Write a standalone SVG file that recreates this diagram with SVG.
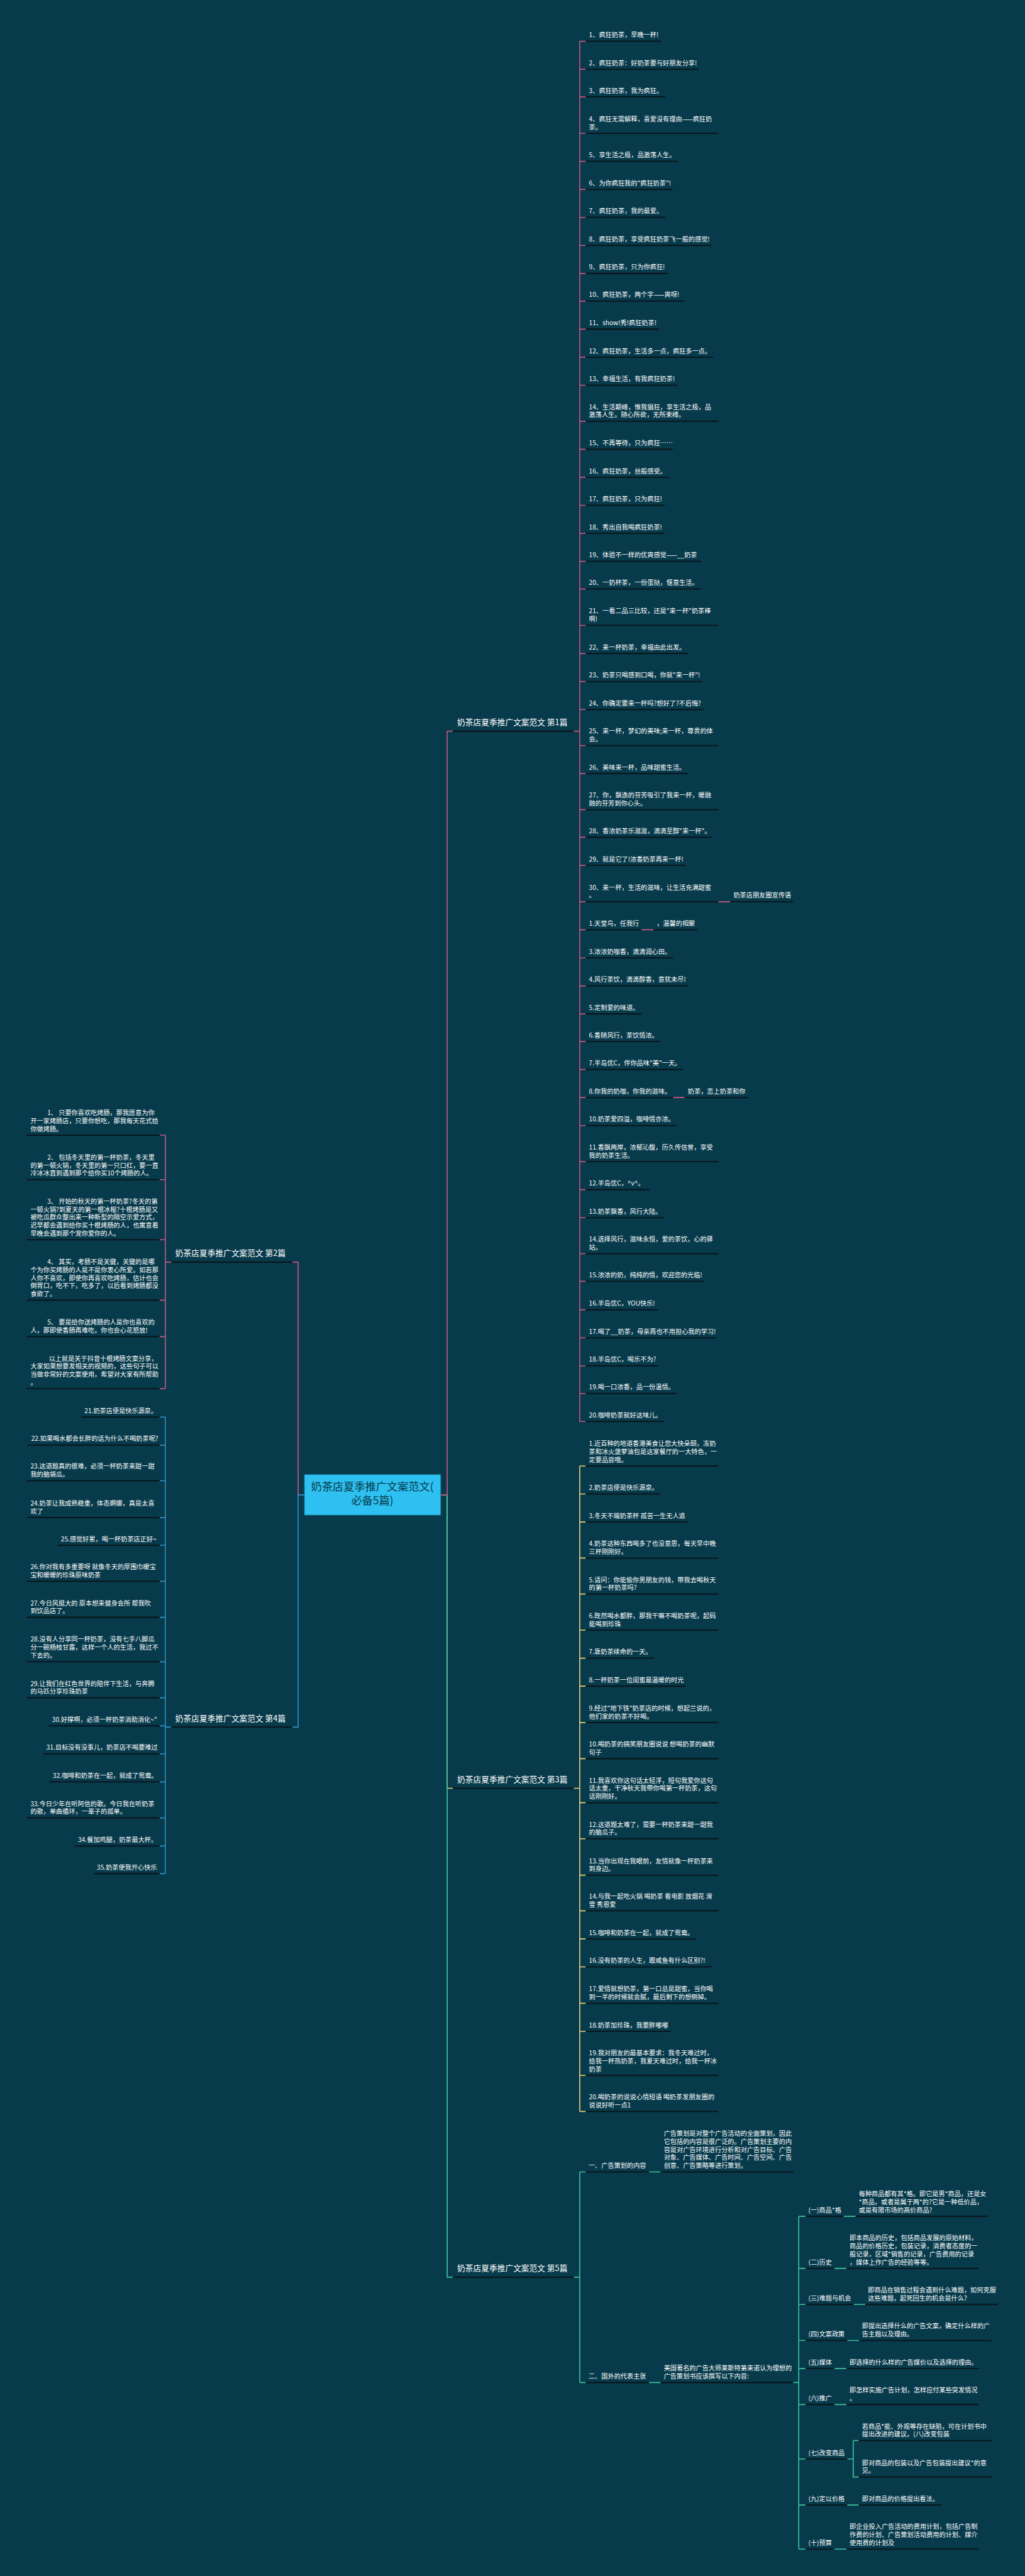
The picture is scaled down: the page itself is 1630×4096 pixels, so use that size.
<svg xmlns="http://www.w3.org/2000/svg" width="1630" height="4096" viewBox="0 0 1630 4096">
<style>
.t{font-family:"Noto Sans CJK SC","Noto Sans",sans-serif;font-size:16px;fill:#ffffff}
.lb{font-family:"Noto Sans CJK SC","Noto Sans",sans-serif;font-size:20px;fill:#ffffff}
.ct{font-family:"Noto Sans CJK SC","Noto Sans",sans-serif;font-size:27px;fill:#073a4b;text-anchor:middle}
.ul{stroke:#0a161b;stroke-width:3.2;fill:none}
.cp{stroke:#c4577f;fill:none;stroke-width:2.6}
.cy{stroke:#e6cf76;fill:none;stroke-width:2.6}
.cg{stroke:#3cc0a0;fill:none;stroke-width:2.6}
.cb{stroke:#2d8fc4;fill:none;stroke-width:2.6}
</style>
<rect width="1630" height="4096" fill="#073a4b"/>
<g transform="scale(0.6367)">
<g id="connectors">
<path class="cy" d="M1101 3733H1117V4466H1131M1433 4466H1448"/>
<path class="cg" d="M1101 3733H1117V5687H1131M1433 5687H1448"/>
<path class="cp" d="M1101 3733H1117V1826H1131M1433 1826H1448"/>
<path class="cp" d="M760 3733H744.6V3152H730M428 3152H413"/>
<path class="cb" d="M760 3733H744.6V4313H730M428 4313H413"/>
<path class="cp" d="M1448 103V3550M1448 103H1463M1448 173H1463M1448 242H1463M1448 333H1463M1448 403H1463M1448 473H1463M1448 543H1463M1448 613H1463M1448 683H1463M1448 752H1463M1448 822H1463M1448 892H1463M1448 962H1463M1448 1052H1463M1448 1122H1463M1448 1192H1463M1448 1262H1463M1448 1332H1463M1448 1402H1463M1448 1471H1463M1448 1562H1463M1448 1632H1463M1448 1702H1463M1448 1772H1463M1448 1862H1463M1448 1932H1463M1448 2022H1463M1448 2091H1463M1448 2161H1463M1448 2252H1463M1448 2322H1463M1448 2392H1463M1448 2462H1463M1448 2532H1463M1448 2601H1463M1448 2671H1463M1448 2741H1463M1448 2811H1463M1448 2901H1463M1448 2971H1463M1448 3041H1463M1448 3131H1463M1448 3200H1463M1448 3271H1463M1448 3341H1463M1448 3411H1463M1448 3480H1463M1448 3550H1463M1794 2252H1824M1602 2322H1632M1681 2741H1710"/>
<path class="cy" d="M1448 3661V5273M1448 3661H1463M1448 3731H1463M1448 3801H1463M1448 3891H1463M1448 3981H1463M1448 4071H1463M1448 4141H1463M1448 4211H1463M1448 4302H1463M1448 4392H1463M1448 4502H1463M1448 4592H1463M1448 4683H1463M1448 4772H1463M1448 4842H1463M1448 4912H1463M1448 5003H1463M1448 5073H1463M1448 5183H1463M1448 5273H1463"/>
<path class="cg" d="M1448 5424V5950M1448 5424H1463M1448 5950H1463M1621 5424H1650M1621 5950H1650M1981 5950H1995M1995 5535V6366M1995 5535H2012M1995 5665H2012M1995 5755H2012M1995 5845H2012M1995 5915H2012M1995 6005H2012M1995 6141H2012M1995 6256H2012M1995 6366H2012M2107 5535H2137M2084 5665H2114M2132 5755H2161M2116 5845H2146M2084 5915H2114M2084 6005H2114M2116 6141H2131M2131 6095H2145M2131 6095V6186H2145M2116 6256H2145M2084 6366H2114"/>
<path class="cp" d="M413 2835V3468M399 2835H413M399 2946H413M399 3096H413M399 3247H413M399 3338H413M399 3468H413"/>
<path class="cb" d="M413 3539V4679M399 3539H413M399 3609H413M399 3698H413M399 3790H413M399 3859H413M399 3949H413M399 4039H413M399 4150H413M399 4240H413M399 4310H413M399 4380H413M399 4450H413M399 4540H413M399 4610H413M399 4679H413"/>
</g>
<g id="center"><rect x="760" y="3682" width="341" height="102" fill="#2ec0f0" stroke="#0f5a78" stroke-width="1.5"/><text class="ct" x="930" y="3723">奶茶店夏季推广文案范文(<tspan x="930" dy="34">必备5篇)</tspan></text></g>
<g id="b1"><line class="ul" x1="1131" y1="1826" x2="1433" y2="1826"/><text class="lb" x="1142" y="1811">奶茶店夏季推广文案范文 第1篇</text></g>
<g id="b3"><line class="ul" x1="1131" y1="4466" x2="1433" y2="4466"/><text class="lb" x="1142" y="4451">奶茶店夏季推广文案范文 第3篇</text></g>
<g id="b5"><line class="ul" x1="1131" y1="5687" x2="1433" y2="5687"/><text class="lb" x="1142" y="5672">奶茶店夏季推广文案范文 第5篇</text></g>
<g id="b2"><line class="ul" x1="428" y1="3152" x2="730" y2="3152"/><text class="lb" x="438" y="3137">奶茶店夏季推广文案范文 第2篇</text></g>
<g id="b4"><line class="ul" x1="428" y1="4313" x2="730" y2="4313"/><text class="lb" x="438" y="4298">奶茶店夏季推广文案范文 第4篇</text></g>
<g id="b1-leaves">
<g id="b1-1"><line class="ul" x1="1463" y1="103" x2="1651" y2="103"/><text class="t" x="1471" y="93">1、疯狂奶茶，早晚一杯!</text></g>
<g id="b1-2"><line class="ul" x1="1463" y1="173" x2="1745" y2="173"/><text class="t" x="1471" y="163">2、疯狂奶茶：好奶茶要与好朋友分享!</text></g>
<g id="b1-3"><line class="ul" x1="1463" y1="242" x2="1661" y2="242"/><text class="t" x="1471" y="232">3、疯狂奶茶，我为疯狂。</text></g>
<g id="b1-4"><line class="ul" x1="1463" y1="333" x2="1794" y2="333"/><text class="t" x="1471" y="303">4、疯狂无需解释，喜爱没有理由——疯狂奶<tspan x="1471" dy="20">茶。</tspan></text></g>
<g id="b1-5"><line class="ul" x1="1463" y1="403" x2="1693" y2="403"/><text class="t" x="1471" y="393">5、享生活之极，品激荡人生。</text></g>
<g id="b1-6"><line class="ul" x1="1463" y1="473" x2="1680" y2="473"/><text class="t" x="1471" y="463">6、为你疯狂我的"疯狂奶茶"!</text></g>
<g id="b1-7"><line class="ul" x1="1463" y1="543" x2="1661" y2="543"/><text class="t" x="1471" y="533">7、疯狂奶茶，我的最爱。</text></g>
<g id="b1-8"><line class="ul" x1="1463" y1="613" x2="1777" y2="613"/><text class="t" x="1471" y="603">8、疯狂奶茶，享受疯狂奶茶飞一般的感觉!</text></g>
<g id="b1-9"><line class="ul" x1="1463" y1="683" x2="1667" y2="683"/><text class="t" x="1471" y="673">9、疯狂奶茶，只为你疯狂!</text></g>
<g id="b1-10"><line class="ul" x1="1463" y1="752" x2="1710" y2="752"/><text class="t" x="1471" y="742">10、疯狂奶茶，两个字——爽呀!</text></g>
<g id="b1-11"><line class="ul" x1="1463" y1="822" x2="1646" y2="822"/><text class="t" x="1471" y="812">11、show!秀!疯狂奶茶!</text></g>
<g id="b1-12"><line class="ul" x1="1463" y1="892" x2="1781" y2="892"/><text class="t" x="1471" y="882">12、疯狂奶茶，生活多一点，疯狂多一点。</text></g>
<g id="b1-13"><line class="ul" x1="1463" y1="962" x2="1692" y2="962"/><text class="t" x="1471" y="952">13、幸福生活，有我疯狂奶茶!</text></g>
<g id="b1-14"><line class="ul" x1="1463" y1="1052" x2="1794" y2="1052"/><text class="t" x="1471" y="1022">14、生活颠峰，惟我猖狂，享生活之极，品<tspan x="1471" dy="20">激荡人生。随心所欲，无所束缚。</tspan></text></g>
<g id="b1-15"><line class="ul" x1="1463" y1="1122" x2="1680" y2="1122"/><text class="t" x="1471" y="1112">15、不再等待，只为疯狂……</text></g>
<g id="b1-16"><line class="ul" x1="1463" y1="1192" x2="1671" y2="1192"/><text class="t" x="1471" y="1182">16、疯狂奶茶，丝般感受。</text></g>
<g id="b1-17"><line class="ul" x1="1463" y1="1262" x2="1660" y2="1262"/><text class="t" x="1471" y="1252">17、疯狂奶茶，只为疯狂!</text></g>
<g id="b1-18"><line class="ul" x1="1463" y1="1332" x2="1660" y2="1332"/><text class="t" x="1471" y="1322">18、秀出自我喝疯狂奶茶!</text></g>
<g id="b1-19"><line class="ul" x1="1463" y1="1402" x2="1751" y2="1402"/><text class="t" x="1471" y="1392">19、体验不一样的优爽感觉——__奶茶</text></g>
<g id="b1-20"><line class="ul" x1="1463" y1="1471" x2="1750" y2="1471"/><text class="t" x="1471" y="1461">20、一奶杯茶，一份蛋挞，惬意生活。</text></g>
<g id="b1-21"><line class="ul" x1="1463" y1="1562" x2="1794" y2="1562"/><text class="t" x="1471" y="1532">21、一看二品三比较，还是"来一杯"奶茶棒<tspan x="1471" dy="20">啊!</tspan></text></g>
<g id="b1-22"><line class="ul" x1="1463" y1="1632" x2="1718" y2="1632"/><text class="t" x="1471" y="1622">22、来一杯奶茶，幸福由此出发。</text></g>
<g id="b1-23"><line class="ul" x1="1463" y1="1702" x2="1753" y2="1702"/><text class="t" x="1471" y="1692">23、奶茶只喝感到口喝，你就"来一杯"!</text></g>
<g id="b1-24"><line class="ul" x1="1463" y1="1772" x2="1757" y2="1772"/><text class="t" x="1471" y="1762">24、你确定要来一杯吗?想好了?不后悔?</text></g>
<g id="b1-25"><line class="ul" x1="1463" y1="1862" x2="1794" y2="1862"/><text class="t" x="1471" y="1832">25、来一杯，梦幻的美味;来一杯，尊贵的体<tspan x="1471" dy="20">会。</tspan></text></g>
<g id="b1-26"><line class="ul" x1="1463" y1="1932" x2="1718" y2="1932"/><text class="t" x="1471" y="1922">26、美味来一杯，品味甜蜜生活。</text></g>
<g id="b1-27"><line class="ul" x1="1463" y1="2022" x2="1794" y2="2022"/><text class="t" x="1471" y="1992">27、你，飘逸的芬芳吸引了我来一杯，暖融<tspan x="1471" dy="20">融的芬芳到你心头。</tspan></text></g>
<g id="b1-28"><line class="ul" x1="1463" y1="2091" x2="1779" y2="2091"/><text class="t" x="1471" y="2081">28、香浓奶茶乐滋滋，滴滴至醇"来一杯"。</text></g>
<g id="b1-29"><line class="ul" x1="1463" y1="2161" x2="1712" y2="2161"/><text class="t" x="1471" y="2151">29、就是它了!浓香奶茶再来一杯!</text></g>
<g id="b1-30"><line class="ul" x1="1463" y1="2252" x2="1794" y2="2252"/><text class="t" x="1471" y="2222">30、来一杯，生活的滋味，让生活充满甜蜜<tspan x="1471" dy="20">。</tspan></text></g>
<g id="b1-30a"><line class="ul" x1="1824" y1="2252" x2="1981" y2="2252"/><text class="t" x="1832" y="2242">奶茶店朋友圈宣传语</text></g>
<g id="b1-31"><line class="ul" x1="1463" y1="2322" x2="1602" y2="2322"/><text class="t" x="1471" y="2312">1.天堂鸟，任我行</text></g>
<g id="b1-31a"><line class="ul" x1="1632" y1="2322" x2="1742" y2="2322"/><text class="t" x="1640" y="2312">，温馨的相聚</text></g>
<g id="b1-32"><line class="ul" x1="1463" y1="2392" x2="1681" y2="2392"/><text class="t" x="1471" y="2382">3.浓浓奶咖香，滴滴润心田。</text></g>
<g id="b1-33"><line class="ul" x1="1463" y1="2462" x2="1718" y2="2462"/><text class="t" x="1471" y="2452">4.风行茶饮，滴滴醇香，意犹未尽!</text></g>
<g id="b1-34"><line class="ul" x1="1463" y1="2532" x2="1602" y2="2532"/><text class="t" x="1471" y="2522">5.定制爱的味道。</text></g>
<g id="b1-35"><line class="ul" x1="1463" y1="2601" x2="1650" y2="2601"/><text class="t" x="1471" y="2591">6.香随风行，茶饮情浓。</text></g>
<g id="b1-36"><line class="ul" x1="1463" y1="2671" x2="1705" y2="2671"/><text class="t" x="1471" y="2661">7.半岛优C，伴你品味"美"一天。</text></g>
<g id="b1-37"><line class="ul" x1="1463" y1="2741" x2="1681" y2="2741"/><text class="t" x="1471" y="2731">8.你我的奶咖，你我的滋味。</text></g>
<g id="b1-37a"><line class="ul" x1="1710" y1="2741" x2="1868" y2="2741"/><text class="t" x="1718" y="2731">奶茶，恋上奶茶和你</text></g>
<g id="b1-38"><line class="ul" x1="1463" y1="2811" x2="1690" y2="2811"/><text class="t" x="1471" y="2801">10.奶茶爱四溢，咖啡情亦浓。</text></g>
<g id="b1-39"><line class="ul" x1="1463" y1="2901" x2="1794" y2="2901"/><text class="t" x="1471" y="2871">11.香飘两岸，浓郁沁馥，历久传信誉，享受<tspan x="1471" dy="20">我的奶茶生活。</tspan></text></g>
<g id="b1-40"><line class="ul" x1="1463" y1="2971" x2="1622" y2="2971"/><text class="t" x="1471" y="2961">12.半岛优C，^v^。</text></g>
<g id="b1-41"><line class="ul" x1="1463" y1="3041" x2="1659" y2="3041"/><text class="t" x="1471" y="3031">13.奶茶飘香，风行大陆。</text></g>
<g id="b1-42"><line class="ul" x1="1463" y1="3131" x2="1794" y2="3131"/><text class="t" x="1471" y="3101">14.选择风行，滋味永恒，爱的茶饮，心的驿<tspan x="1471" dy="20">站。</tspan></text></g>
<g id="b1-43"><line class="ul" x1="1463" y1="3200" x2="1758" y2="3200"/><text class="t" x="1471" y="3190">15.浓浓的奶，纯纯的情，欢迎您的光临!</text></g>
<g id="b1-44"><line class="ul" x1="1463" y1="3271" x2="1645" y2="3271"/><text class="t" x="1471" y="3261">16.半岛优C，YOU快乐!</text></g>
<g id="b1-45"><line class="ul" x1="1463" y1="3341" x2="1788" y2="3341"/><text class="t" x="1471" y="3331">17.喝了__奶茶，母亲再也不用担心我的学习!</text></g>
<g id="b1-46"><line class="ul" x1="1463" y1="3411" x2="1645" y2="3411"/><text class="t" x="1471" y="3401">18.半岛优C，喝乐不为?</text></g>
<g id="b1-47"><line class="ul" x1="1463" y1="3480" x2="1690" y2="3480"/><text class="t" x="1471" y="3470">19.喝一口浓香，品一份温情。</text></g>
<g id="b1-48"><line class="ul" x1="1463" y1="3550" x2="1659" y2="3550"/><text class="t" x="1471" y="3540">20.咖啡奶茶就好这味儿。</text></g>
</g>
<g id="b3-leaves">
<g id="b3-1"><line class="ul" x1="1463" y1="3661" x2="1794" y2="3661"/><text class="t" x="1471" y="3611">1.近百种的地道香港美食让您大快朵颐，冻奶<tspan x="1471" dy="20">茶和冰火菠萝油包是这家餐厅的一大特色，一</tspan><tspan x="1471" dy="20">定要品尝哦。</tspan></text></g>
<g id="b3-2"><line class="ul" x1="1463" y1="3731" x2="1650" y2="3731"/><text class="t" x="1471" y="3721">2.奶茶店便是快乐源泉。</text></g>
<g id="b3-3"><line class="ul" x1="1463" y1="3801" x2="1717" y2="3801"/><text class="t" x="1471" y="3791">3.冬天不端奶茶杯 孤苦一生无人追</text></g>
<g id="b3-4"><line class="ul" x1="1463" y1="3891" x2="1794" y2="3891"/><text class="t" x="1471" y="3861">4.奶茶这种东西喝多了也没意思，每天早中晚<tspan x="1471" dy="20">三杯刚刚好。</tspan></text></g>
<g id="b3-5"><line class="ul" x1="1463" y1="3981" x2="1794" y2="3981"/><text class="t" x="1471" y="3951">5.请问：你能偷你男朋友的钱，带我去喝秋天<tspan x="1471" dy="20">的第一杯奶茶吗?</tspan></text></g>
<g id="b3-6"><line class="ul" x1="1463" y1="4071" x2="1794" y2="4071"/><text class="t" x="1471" y="4041">6.既然喝水都胖，那我干嘛不喝奶茶呢，起码<tspan x="1471" dy="20">能喝到珍珠</tspan></text></g>
<g id="b3-7"><line class="ul" x1="1463" y1="4141" x2="1634" y2="4141"/><text class="t" x="1471" y="4131">7.靠奶茶续命的一天。</text></g>
<g id="b3-8"><line class="ul" x1="1463" y1="4211" x2="1712" y2="4211"/><text class="t" x="1471" y="4201">8.一杯奶茶一位闺蜜最温暖的时光</text></g>
<g id="b3-9"><line class="ul" x1="1463" y1="4302" x2="1794" y2="4302"/><text class="t" x="1471" y="4272">9.经过"地下铁"奶茶店的时候，想起兰说的，<tspan x="1471" dy="20">他们家的奶茶不好喝。</tspan></text></g>
<g id="b3-10"><line class="ul" x1="1463" y1="4392" x2="1794" y2="4392"/><text class="t" x="1471" y="4362">10.喝奶茶的搞笑朋友圈说说 想喝奶茶的幽默<tspan x="1471" dy="20">句子</tspan></text></g>
<g id="b3-11"><line class="ul" x1="1463" y1="4502" x2="1794" y2="4502"/><text class="t" x="1471" y="4452">11.我喜欢你这句话太轻浮，短句我爱你这句<tspan x="1471" dy="20">话太重，干净秋天我带你喝第一杯奶茶，这句</tspan><tspan x="1471" dy="20">话刚刚好。</tspan></text></g>
<g id="b3-12"><line class="ul" x1="1463" y1="4592" x2="1794" y2="4592"/><text class="t" x="1471" y="4562">12.这道题太难了，需要一杯奶茶来甜一甜我<tspan x="1471" dy="20">的脑瓜子。</tspan></text></g>
<g id="b3-13"><line class="ul" x1="1463" y1="4683" x2="1794" y2="4683"/><text class="t" x="1471" y="4653">13.当你出现在我眼前，友情就像一杯奶茶来<tspan x="1471" dy="20">到身边。</tspan></text></g>
<g id="b3-14"><line class="ul" x1="1463" y1="4772" x2="1794" y2="4772"/><text class="t" x="1471" y="4742">14.与我一起吃火锅 喝奶茶 看电影 放烟花 滑<tspan x="1471" dy="20">雪 秀恩爱</tspan></text></g>
<g id="b3-15"><line class="ul" x1="1463" y1="4842" x2="1738" y2="4842"/><text class="t" x="1471" y="4832">15.咖啡和奶茶在一起，就成了鸳鸯。</text></g>
<g id="b3-16"><line class="ul" x1="1463" y1="4912" x2="1777" y2="4912"/><text class="t" x="1471" y="4902">16.没有奶茶的人生，跟咸鱼有什么区别?!</text></g>
<g id="b3-17"><line class="ul" x1="1463" y1="5003" x2="1794" y2="5003"/><text class="t" x="1471" y="4973">17.爱情就想奶茶，第一口总是甜蜜，当你喝<tspan x="1471" dy="20">到一半的时候就会腻，最后剩下的想倒掉。</tspan></text></g>
<g id="b3-18"><line class="ul" x1="1463" y1="5073" x2="1675" y2="5073"/><text class="t" x="1471" y="5063">18.奶茶加珍珠，我要胖嘟嘟</text></g>
<g id="b3-19"><line class="ul" x1="1463" y1="5183" x2="1794" y2="5183"/><text class="t" x="1471" y="5133">19.我对朋友的最基本要求：我冬天难过时，<tspan x="1471" dy="20">给我一杯热奶茶，我夏天难过时，给我一杯冰</tspan><tspan x="1471" dy="20">奶茶</tspan></text></g>
<g id="b3-20"><line class="ul" x1="1463" y1="5273" x2="1794" y2="5273"/><text class="t" x="1471" y="5243">20.喝奶茶的说说心情短语 喝奶茶发朋友圈的<tspan x="1471" dy="20">说说好听一点1</tspan></text></g>
</g>
<g id="b5-nodes">
<g id="b5-1"><line class="ul" x1="1463" y1="5424" x2="1621" y2="5424"/><text class="t" x="1470" y="5414">一、广告策划的内容</text></g>
<g id="b5-1a"><line class="ul" x1="1650" y1="5424" x2="1981" y2="5424"/><text class="t" x="1658" y="5334">广告策划是对整个广告活动的全面策划，因此<tspan x="1658" dy="20">它包括的内容是很广泛的。广告策划主要的内</tspan><tspan x="1658" dy="20">容是对广告环境进行分析和对广告目标、广告</tspan><tspan x="1658" dy="20">对象、广告媒体、广告时间、广告空间、广告</tspan><tspan x="1658" dy="20">创意、广告策略等进行策划。</tspan></text></g>
<g id="b5-2"><line class="ul" x1="1463" y1="5950" x2="1621" y2="5950"/><text class="t" x="1470" y="5940">二、国外的代表主张</text></g>
<g id="b5-2a"><line class="ul" x1="1650" y1="5950" x2="1981" y2="5950"/><text class="t" x="1658" y="5920">美国著名的广告大师莱斯特第来诺认为理想的<tspan x="1658" dy="20">广告策划书应该撰写以下内容:</tspan></text></g>
<g id="b5-s1"><line class="ul" x1="2012" y1="5535" x2="2107" y2="5535"/><text class="t" x="2019" y="5525">(一)商品*格</text></g>
<g id="b5-s1a"><line class="ul" x1="2137" y1="5535" x2="2467" y2="5535"/><text class="t" x="2145" y="5485">每种商品都有其*格。即它是男*商品，还是女<tspan x="2145" dy="20">*商品，或者是属于两*的?它是一种低价品，</tspan><tspan x="2145" dy="20">或是有限市场的高价商品?</tspan></text></g>
<g id="b5-s2"><line class="ul" x1="2012" y1="5665" x2="2084" y2="5665"/><text class="t" x="2019" y="5655">(二)历史</text></g>
<g id="b5-s2a"><line class="ul" x1="2114" y1="5665" x2="2445" y2="5665"/><text class="t" x="2122" y="5595">即本商品的历史，包括商品发展的原始材料，<tspan x="2122" dy="20">商品的价格历史，包装记录，消费者态度的一</tspan><tspan x="2122" dy="20">般记录，区域*销售的记录，广告费用的记录</tspan><tspan x="2122" dy="20">，媒体上作广告的经验等等。</tspan></text></g>
<g id="b5-s3"><line class="ul" x1="2012" y1="5755" x2="2132" y2="5755"/><text class="t" x="2019" y="5745">(三)难题与机会</text></g>
<g id="b5-s3a"><line class="ul" x1="2161" y1="5755" x2="2492" y2="5755"/><text class="t" x="2168" y="5725">即商品在销售过程会遇到什么难题，如何克服<tspan x="2168" dy="20">这些难题，起死回生的机会是什么?</tspan></text></g>
<g id="b5-s4"><line class="ul" x1="2012" y1="5845" x2="2116" y2="5845"/><text class="t" x="2019" y="5835">(四)文案政策</text></g>
<g id="b5-s4a"><line class="ul" x1="2146" y1="5845" x2="2477" y2="5845"/><text class="t" x="2153" y="5815">即提出选择什么的广告文案，确定什么样的广<tspan x="2153" dy="20">告主题以及理由。</tspan></text></g>
<g id="b5-s5"><line class="ul" x1="2012" y1="5915" x2="2084" y2="5915"/><text class="t" x="2019" y="5905">(五)媒体</text></g>
<g id="b5-s5a"><line class="ul" x1="2114" y1="5915" x2="2445" y2="5915"/><text class="t" x="2122" y="5905">即选择的什么样的广告媒价以及选择的理由。</text></g>
<g id="b5-s6"><line class="ul" x1="2012" y1="6005" x2="2084" y2="6005"/><text class="t" x="2019" y="5995">(六)推广</text></g>
<g id="b5-s6a"><line class="ul" x1="2114" y1="6005" x2="2445" y2="6005"/><text class="t" x="2122" y="5975">即怎样实施广告计划，怎样应付某些突发情况<tspan x="2122" dy="20">。</tspan></text></g>
<g id="b5-s7"><line class="ul" x1="2012" y1="6141" x2="2116" y2="6141"/><text class="t" x="2019" y="6131">(七)改变商品</text></g>
<g id="b5-s7a"><line class="ul" x1="2145" y1="6095" x2="2477" y2="6095"/><text class="t" x="2153" y="6065">若商品*能、外观等存在缺陷，可在计划书中<tspan x="2153" dy="20">提出改进的建议。(八)改变包装</tspan></text></g>
<g id="b5-s7b"><line class="ul" x1="2145" y1="6186" x2="2477" y2="6186"/><text class="t" x="2153" y="6156">即对商品的包装以及广告包装提出建议*的意<tspan x="2153" dy="20">见。</tspan></text></g>
<g id="b5-s9"><line class="ul" x1="2012" y1="6256" x2="2116" y2="6256"/><text class="t" x="2019" y="6246">(九)定以价格</text></g>
<g id="b5-s9a"><line class="ul" x1="2145" y1="6256" x2="2351" y2="6256"/><text class="t" x="2153" y="6246">即对商品的价格提出看法。</text></g>
<g id="b5-s10"><line class="ul" x1="2012" y1="6366" x2="2084" y2="6366"/><text class="t" x="2019" y="6356">(十)预算</text></g>
<g id="b5-s10a"><line class="ul" x1="2114" y1="6366" x2="2445" y2="6366"/><text class="t" x="2122" y="6316">即企业投入广告活动的费用计划，包括广告制<tspan x="2122" dy="20">作费的计划、广告策划活动费用的计划、媒介</tspan><tspan x="2122" dy="20">使用费的计划及</tspan></text></g>
</g>
<g id="b2-leaves">
<g id="b2-1"><line class="ul" x1="67" y1="2835" x2="399" y2="2835"/><text class="t" x="118" y="2785">1、 只要你喜欢吃烤肠，那我愿意为你<tspan x="76" dy="20">开一家烤肠店，只要你想吃，那我每天花式给</tspan><tspan x="76" dy="20">你做烤肠。</tspan></text></g>
<g id="b2-2"><line class="ul" x1="67" y1="2946" x2="399" y2="2946"/><text class="t" x="118" y="2896">2、 包括冬天里的第一杯奶茶，冬天里<tspan x="76" dy="20">的第一顿火锅，冬天里的第一只口红，要一直</tspan><tspan x="76" dy="20">冷冰冰直到遇到那个给你买10个烤肠的人。</tspan></text></g>
<g id="b2-3"><line class="ul" x1="67" y1="3096" x2="399" y2="3096"/><text class="t" x="118" y="3006">3、 开始的秋天的第一杯奶茶?冬天的第<tspan x="76" dy="20">一顿火锅?到夏天的第一根冰棍?十根烤肠是又</tspan><tspan x="76" dy="20">被吃瓜群众整出来一种新型的隔空示爱方式，</tspan><tspan x="76" dy="20">迟早都会遇到给你买十根烤肠的人，也寓意着</tspan><tspan x="76" dy="20">早晚会遇到那个宠你爱你的人。</tspan></text></g>
<g id="b2-4"><line class="ul" x1="67" y1="3247" x2="399" y2="3247"/><text class="t" x="118" y="3157">4、 其实，考肠不是关键，关键的是哪<tspan x="76" dy="20">个为你买烤肠的人是不是你衷心所爱。如若那</tspan><tspan x="76" dy="20">人你不喜欢，即使你再喜欢吃烤肠，估计也会</tspan><tspan x="76" dy="20">倒胃口，吃不下，吃多了，以后看到烤肠都没</tspan><tspan x="76" dy="20">食欲了。</tspan></text></g>
<g id="b2-5"><line class="ul" x1="67" y1="3338" x2="399" y2="3338"/><text class="t" x="118" y="3308">5、 要是给你送烤肠的人是你也喜欢的<tspan x="76" dy="20">人，那即使香肠再难吃，你也会心花怒放!</tspan></text></g>
<g id="b2-6"><line class="ul" x1="67" y1="3468" x2="399" y2="3468"/><text class="t" x="122" y="3398">以上就是关于抖音十根烤肠文案分享，<tspan x="76" dy="20">大家如果想要发相关的视频的，这些句子可以</tspan><tspan x="76" dy="20">当做非常好的文案使用，希望对大家有所帮助</tspan><tspan x="76" dy="20">。</tspan></text></g>
</g>
<g id="b4-leaves">
<g id="b4-21"><line class="ul" x1="203" y1="3539" x2="399" y2="3539"/><text class="t" x="211" y="3529">21.奶茶店便是快乐源泉。</text></g>
<g id="b4-22"><line class="ul" x1="69" y1="3609" x2="399" y2="3609"/><text class="t" x="78" y="3599">22.如果喝水都会长胖的话为什么不喝奶茶呢?</text></g>
<g id="b4-23"><line class="ul" x1="67" y1="3698" x2="399" y2="3698"/><text class="t" x="76" y="3668">23.这道题真的很难，必须一杯奶茶来甜一甜<tspan x="76" dy="20">我的脑袋瓜。</tspan></text></g>
<g id="b4-24"><line class="ul" x1="67" y1="3790" x2="399" y2="3790"/><text class="t" x="76" y="3760">24.奶茶让我成熟稳重，体态婀娜，真是太喜<tspan x="76" dy="20">欢了</tspan></text></g>
<g id="b4-25"><line class="ul" x1="144" y1="3859" x2="399" y2="3859"/><text class="t" x="152" y="3849">25.感觉好累，喝一杯奶茶店正好~</text></g>
<g id="b4-26"><line class="ul" x1="67" y1="3949" x2="399" y2="3949"/><text class="t" x="76" y="3919">26.你对我有多重要呀 就像冬天的厚围巾暖宝<tspan x="76" dy="20">宝和暖暖的珍珠原味奶茶</tspan></text></g>
<g id="b4-27"><line class="ul" x1="67" y1="4039" x2="399" y2="4039"/><text class="t" x="76" y="4009">27.今日风挺大的 原本想来健身会所 帮我吹<tspan x="76" dy="20">到饮品店了。</tspan></text></g>
<g id="b4-28"><line class="ul" x1="67" y1="4150" x2="399" y2="4150"/><text class="t" x="76" y="4100">28.没有人分享同一杯奶茶，没有七手八脚瓜<tspan x="76" dy="20">分一碗杨枝甘露，这样一个人的生活，我过不</tspan><tspan x="76" dy="20">下去的。</tspan></text></g>
<g id="b4-29"><line class="ul" x1="67" y1="4240" x2="399" y2="4240"/><text class="t" x="76" y="4210">29.让我们在红色世界的陪伴下生活，与奔腾<tspan x="76" dy="20">的马匹分享珍珠奶茶</tspan></text></g>
<g id="b4-30"><line class="ul" x1="121" y1="4310" x2="399" y2="4310"/><text class="t" x="130" y="4300">30.好撑啊，必须一杯奶茶消助消化~"</text></g>
<g id="b4-31"><line class="ul" x1="108" y1="4380" x2="399" y2="4380"/><text class="t" x="116" y="4370">31.目标没有没事儿，奶茶店不喝要难过</text></g>
<g id="b4-32"><line class="ul" x1="124" y1="4450" x2="399" y2="4450"/><text class="t" x="132" y="4440">32.咖啡和奶茶在一起，就成了鸳鸯。</text></g>
<g id="b4-33"><line class="ul" x1="67" y1="4540" x2="399" y2="4540"/><text class="t" x="76" y="4510">33.今日少年在听阿信的歌。今日我在听奶茶<tspan x="76" dy="20">的歌，单曲循环，一辈子的孤单。</tspan></text></g>
<g id="b4-34"><line class="ul" x1="187" y1="4610" x2="399" y2="4610"/><text class="t" x="195" y="4600">34.餐加鸡腿，奶茶最大杯。</text></g>
<g id="b4-35"><line class="ul" x1="235" y1="4679" x2="399" y2="4679"/><text class="t" x="242" y="4669">35.奶茶使我开心快乐</text></g>
</g>
</g>
</svg>
